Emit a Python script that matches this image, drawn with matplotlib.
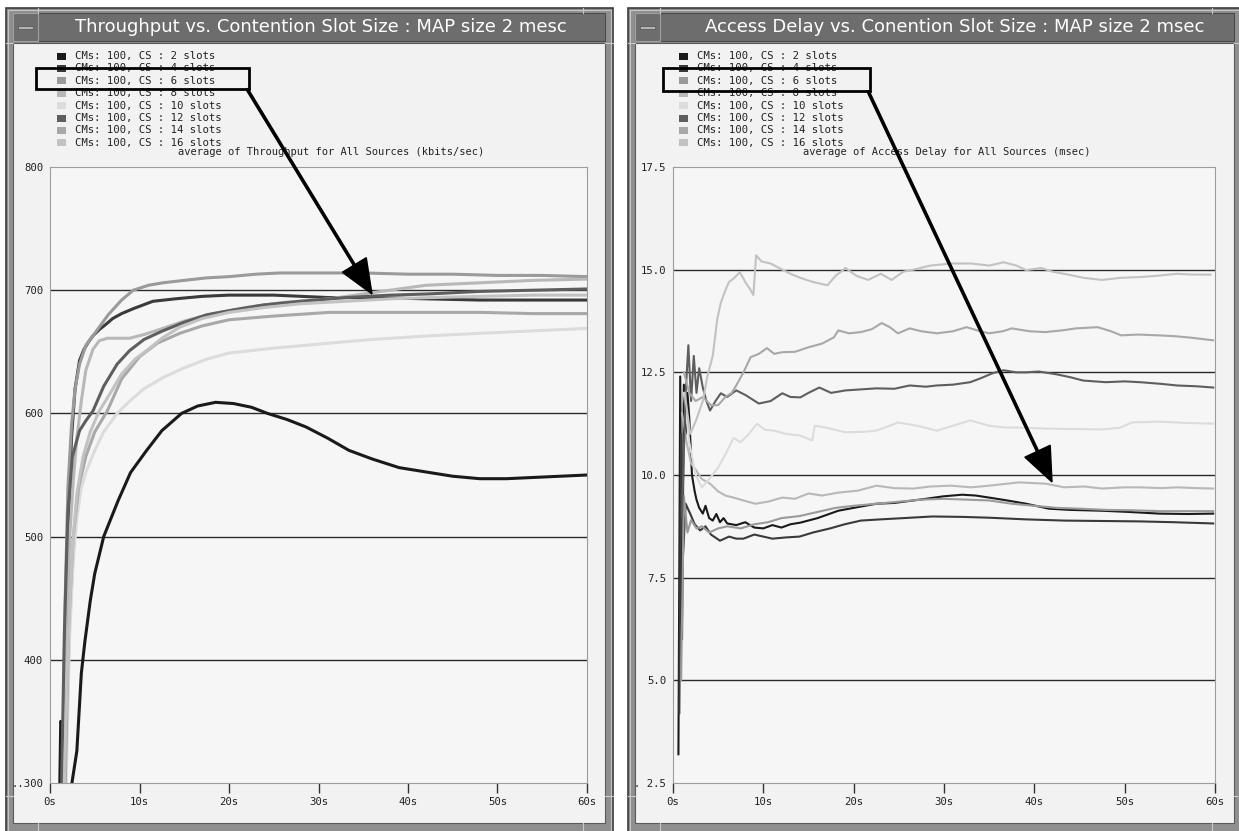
import matplotlib
matplotlib.use('Agg')
import matplotlib.pyplot as plt
from matplotlib.patches import Rectangle

W, H = 1239, 831

# ---------------- data ----------------
legend_labels = ["CMs: 100, CS : 2 slots", "CMs: 100, CS : 4 slots",
                 "CMs: 100, CS : 6 slots", "CMs: 100, CS : 8 slots",
                 "CMs: 100, CS : 10 slots", "CMs: 100, CS : 12 slots",
                 "CMs: 100, CS : 14 slots", "CMs: 100, CS : 16 slots"]
series_colors = ['#1a1a1a', '#3a3a3a', '#9a9a9a', '#b8b8b8',
                 '#dcdcdc', '#5e5e5e', '#a8a8a8', '#c2c2c2']

x_ticks = [0, 10, 20, 30, 40, 50, 60]
x_ticklabels = ['0s', '10s', '20s', '30s', '40s', '50s', '60s']
thr_yticks = [300, 400, 500, 600, 700, 800]
thr_yticklabels = ['..300', '400', '500', '600', '700', '800']
dly_yticks = [2.5, 5.0, 7.5, 10.0, 12.5, 15.0, 17.5]
dly_yticklabels = ['. 2.5', '5.0', '7.5', '10.0', '12.5', '15.0', '17.5']

# throughput (kbits/sec)
thr_t2 = [1.1, 1.2, 1.5, 1.8, 2.2, 2.45, 3.0, 3.5, 3.9, 4.5, 5.0, 6.0, 7.6, 9.0, 10.8, 12.5, 14.7, 16.5,
          18.5, 20.5, 22.5, 24.3, 26.5, 28.6, 31.0, 33.4, 36.0, 39.0, 42.4, 45.0, 48.0, 51.0, 54.0, 57.0, 60.0]
thr_2 = [300, 350, 345, 290, 290, 300, 326, 389, 415, 448, 470, 500, 529, 552, 570, 586, 600, 606,
         609, 608, 605, 600, 595, 589, 580, 570, 563, 556, 552, 549, 547, 547, 548, 549, 550]
thr_t4 = [1.5, 1.8, 2.1, 2.4, 2.8, 3.3, 3.8, 4.3, 4.8, 5.5, 6.2, 7.0, 8.0, 9.3, 11.5, 14.0, 17.0,
          20.0, 25.0, 31.2, 36.0, 42.0, 48.0, 54.0, 60.0]
thr_4 = [300, 420, 520, 580, 620, 643, 652, 658, 663, 668, 672, 677, 681, 685, 691, 693, 695,
         696, 696, 694, 694, 693, 692, 692, 692]
thr_t6 = [1.4, 1.7, 2.0, 2.4, 2.8, 3.3, 4.0, 5.2, 6.5, 8.0, 9.3, 11.0, 12.6, 15.0, 17.5, 20.0, 23.0,
          25.7, 30.0, 35.0, 40.0, 45.0, 50.0, 55.0, 60.0]
thr_6 = [300, 450, 540, 590, 620, 640, 655, 667, 680, 692, 700, 704, 706, 708, 710, 711, 713,
         714, 714, 714, 713, 713, 712, 712, 711]
thr_t8 = [1.6, 1.9, 2.2, 2.6, 3.0, 3.5, 4.0, 4.8, 5.5, 6.4, 7.5, 8.9, 10.5, 12.6, 15.0, 18.2, 22.0,
          26.0, 31.2, 36.0, 42.0, 48.0, 54.0, 60.0]
thr_8 = [300, 420, 500, 545, 580, 610, 635, 652, 659, 661, 661, 661, 664, 669, 675, 681, 686,
         690, 693, 698, 704, 706, 708, 709]
thr_t10 = [1.8, 2.2, 2.6, 3.0, 3.5, 4.1, 5.0, 6.0, 7.5, 8.9, 10.5, 12.6, 15.0, 17.5, 20.0, 25.0,
           31.2, 36.0, 42.4, 48.0, 54.0, 60.0]
thr_10 = [300, 420, 480, 515, 540, 554, 570, 585, 600, 610, 620, 629, 637, 644, 649, 653,
          657, 660, 663, 665, 667, 669]
thr_t12 = [1.3, 1.6, 2.0, 2.5, 3.3, 4.0, 4.8, 6.0, 7.5, 8.9, 10.5, 12.6, 15.0, 17.5, 20.5, 23.8,
           28.0, 33.0, 38.0, 42.4, 48.0, 54.0, 60.0]
thr_12 = [300, 420, 520, 565, 586, 594, 602, 622, 640, 651, 660, 667, 674, 680, 684, 688,
          691, 694, 696, 697, 699, 700, 701]
thr_t14 = [1.7, 2.1, 2.6, 3.2, 4.0, 5.0, 6.4, 8.0, 10.0, 12.0, 14.5, 17.0, 20.0, 25.0, 31.2, 36.0,
           42.4, 48.0, 54.0, 60.0]
thr_14 = [300, 430, 500, 540, 565, 585, 602, 628, 646, 657, 665, 671, 676, 679, 682, 682,
          682, 682, 681, 681]
thr_t16 = [1.6, 2.0, 2.5, 3.0, 3.7, 4.5, 5.5, 6.7, 8.0, 9.5, 10.8, 12.5, 14.5, 17.0, 20.0, 24.0,
           28.0, 33.0, 38.0, 42.4, 48.0, 54.0, 60.0]
thr_16 = [300, 410, 490, 535, 565, 585, 602, 616, 632, 644, 651, 661, 670, 677, 682, 686,
          689, 691, 693, 694, 695, 696, 696]

# access delay (msec)
dly_t2 = [0.6, 0.8, 1.0, 1.2, 1.4, 1.6, 1.8, 2.1, 2.4, 2.6, 2.9, 3.3, 3.6, 4.0, 4.4, 4.8, 5.2, 5.6,
          6.0, 7.0, 8.0, 9.0, 10.0, 11.0, 12.0, 13.0, 14.1, 16.0, 18.3, 20.5, 22.5, 24.5, 26.6, 28.0,
          29.9, 32.0, 33.5, 35.0, 37.0, 39.1, 41.6, 44.0, 47.5, 50.5, 53.8, 57.0, 59.8]
dly_2 = [3.2, 12.4, 6.0, 12.2, 11.0, 12.0, 11.4, 10.0, 9.6, 9.4, 9.2, 9.06, 9.25, 8.95, 8.89, 9.05,
         8.85, 8.95, 8.82, 8.78, 8.85, 8.72, 8.7, 8.78, 8.72, 8.8, 8.84, 8.95, 9.13, 9.22, 9.3, 9.32,
         9.38, 9.42, 9.48, 9.52, 9.5, 9.45, 9.38, 9.3, 9.18, 9.15, 9.13, 9.1, 9.06, 9.05, 9.06]
dly_t4 = [0.7, 0.9, 1.1, 1.4, 1.9, 2.4, 3.0, 3.6, 4.2, 5.2, 6.2, 7.0, 7.8, 9.0, 10.0, 11.0, 12.5,
          14.0, 15.5, 17.4, 19.0, 20.8, 23.0, 25.5, 28.7, 32.0, 35.0, 39.0, 43.3, 47.5, 51.7, 55.5, 59.8]
dly_4 = [4.2, 11.0, 8.0, 9.3, 9.06, 8.8, 8.65, 8.75, 8.55, 8.4, 8.5, 8.45, 8.45, 8.55, 8.5, 8.45,
         8.48, 8.5, 8.6, 8.7, 8.8, 8.89, 8.92, 8.95, 8.99, 8.98, 8.96, 8.92, 8.89, 8.88, 8.87, 8.85, 8.82]
dly_t6 = [0.9, 1.2, 1.6, 2.0, 2.6, 3.2, 4.0, 5.0, 6.0, 7.5, 9.0, 10.5, 12.0, 14.0, 16.0, 18.0, 20.0,
          22.5, 25.0, 27.5, 30.0, 32.5, 35.0, 37.5, 40.0, 42.5, 45.0, 48.0, 51.0, 54.0, 57.0, 59.8]
dly_6 = [5.0, 9.5, 8.6, 8.9, 8.7, 8.75, 8.6, 8.7, 8.75, 8.7, 8.8, 8.85, 8.95, 9.0, 9.1, 9.2, 9.25,
         9.3, 9.35, 9.4, 9.42, 9.4, 9.38, 9.3, 9.25, 9.2, 9.18, 9.15, 9.14, 9.12, 9.12, 9.12]
dly_t8 = [1.0, 1.5, 2.0, 2.6, 3.2, 4.1, 5.0, 5.8, 6.7, 7.8, 9.1, 10.5, 12.1, 13.5, 15.0, 16.5, 18.3,
          20.5, 22.5, 24.5, 26.6, 28.5, 30.8, 33.0, 35.0, 38.3, 41.2, 43.3, 45.5, 47.5, 50.0, 51.7,
          54.0, 55.8, 58.0, 59.8]
dly_8 = [11.5, 10.8, 10.28, 10.1, 9.9, 9.79, 9.6, 9.5, 9.45, 9.38, 9.3, 9.35, 9.45, 9.42, 9.55, 9.5,
         9.57, 9.62, 9.74, 9.68, 9.67, 9.72, 9.74, 9.7, 9.74, 9.82, 9.79, 9.7, 9.72, 9.67, 9.7, 9.7,
         9.68, 9.7, 9.68, 9.67]
dly_t10 = [1.2, 1.8, 2.5, 3.2, 4.0, 5.0, 5.8, 6.7, 7.5, 8.4, 9.3, 10.2, 11.2, 12.5, 14.1, 15.4, 15.7,
           17.0, 19.1, 21.0, 22.5, 24.0, 24.9, 27.0, 29.2, 31.0, 32.9, 35.0, 36.6, 39.0, 41.2, 44.0,
           47.5, 49.5, 50.8, 53.8, 56.5, 59.8]
dly_10 = [12.0, 10.8, 10.0, 9.7, 9.9, 10.18, 10.5, 10.9, 10.8, 11.0, 11.25, 11.1, 11.08, 11.0, 10.96,
          10.84, 11.2, 11.15, 11.04, 11.05, 11.08, 11.2, 11.28, 11.2, 11.08, 11.2, 11.33, 11.2, 11.16,
          11.15, 11.13, 11.12, 11.11, 11.15, 11.28, 11.3, 11.27, 11.25]
dly_t12 = [1.0, 1.4, 1.7, 2.0, 2.3, 2.6, 2.9, 3.3, 3.7, 4.1, 4.7, 5.3, 6.0, 7.0, 8.0, 9.5, 10.8, 12.1,
           13.0, 14.1, 15.0, 16.2, 17.5, 19.1, 20.5, 22.5, 24.5, 26.2, 28.0, 29.2, 31.0, 32.9, 34.0,
           35.4, 36.6, 38.0, 39.1, 40.5, 42.5, 44.0, 45.4, 47.9, 50.0, 51.7, 54.0, 55.8, 58.0, 59.8]
dly_12 = [9.0, 12.0, 13.16, 11.8, 12.9, 12.0, 12.6, 12.13, 11.8, 11.57, 11.8, 11.99, 11.9, 12.06,
          11.95, 11.74, 11.8, 11.99, 11.9, 11.89, 12.0, 12.13, 12.0, 12.06, 12.08, 12.11, 12.1, 12.18,
          12.15, 12.18, 12.2, 12.26, 12.35, 12.48, 12.55, 12.5, 12.5, 12.52, 12.45, 12.38, 12.3, 12.26,
          12.28, 12.26, 12.22, 12.18, 12.16, 12.13]
dly_t14 = [1.2, 1.8, 2.5, 3.3, 4.2, 5.0, 5.8, 6.5, 7.0, 7.8, 8.6, 9.5, 10.4, 11.2, 12.1, 13.5, 15.0,
           16.5, 17.8, 18.3, 19.5, 20.8, 22.0, 23.1, 24.0, 24.9, 26.2, 27.5, 29.2, 31.0, 32.5, 34.0,
           35.0, 36.5, 37.5, 39.5, 41.2, 43.0, 44.6, 47.0, 48.5, 49.6, 51.5, 53.8, 55.5, 57.1, 59.8]
dly_14 = [12.5, 12.0, 11.8, 11.9, 11.7, 11.7, 11.9, 12.0, 12.18, 12.5, 12.87, 12.95, 13.09, 12.95,
          12.99, 13.0, 13.11, 13.2, 13.35, 13.52, 13.45, 13.48, 13.55, 13.7, 13.6, 13.45, 13.57, 13.5,
          13.45, 13.5, 13.6, 13.5, 13.45, 13.5, 13.57, 13.5, 13.48, 13.52, 13.57, 13.6, 13.5, 13.4,
          13.42, 13.4, 13.38, 13.35, 13.28]
dly_t16 = [1.3, 1.9, 2.5, 3.3, 3.8, 4.4, 4.9, 5.3, 5.8, 6.2, 6.8, 7.4, 8.0, 8.6, 8.9, 9.2, 9.8, 10.8,
           12.1, 13.0, 14.1, 15.5, 17.1, 18.0, 19.1, 20.3, 21.6, 23.0, 24.2, 25.5, 26.6, 28.5, 30.8,
           33.0, 35.0, 36.6, 38.0, 39.1, 40.8, 42.0, 43.3, 45.5, 47.5, 49.5, 51.7, 53.5, 55.8, 57.5, 59.5]
dly_16 = [12.0, 11.0, 11.3, 11.8, 12.4, 12.9, 13.8, 14.2, 14.5, 14.7, 14.8, 14.94, 14.7, 14.5, 14.38,
          15.35, 15.2, 15.15, 15.0, 14.9, 14.8, 14.7, 14.62, 14.85, 15.04, 14.85, 14.75, 14.9, 14.75,
          14.95, 15.0, 15.1, 15.15, 15.15, 15.1, 15.18, 15.1, 14.99, 15.04, 14.95, 14.9, 14.8, 14.75,
          14.8, 14.82, 14.85, 14.9, 14.88, 14.88]

thr_series = [(thr_t2, thr_2), (thr_t4, thr_4), (thr_t6, thr_6), (thr_t8, thr_8),
              (thr_t10, thr_10), (thr_t12, thr_12), (thr_t14, thr_14), (thr_t16, thr_16)]
dly_series = [(dly_t2, dly_2), (dly_t4, dly_4), (dly_t6, dly_6), (dly_t8, dly_8),
              (dly_t10, dly_10), (dly_t12, dly_12), (dly_t14, dly_14), (dly_t16, dly_16)]

MONO = 'DejaVu Sans Mono'
plt.rcParams['font.family'] = MONO


def draw_window(ax, x0, x1, title, title_cx, subtitle, sub_cx):
    y0, y1 = 8, 840
    ax.add_patch(Rectangle((x0, y0), x1 - x0, y1 - y0, facecolor='#8f8f8f', edgecolor='#3c3c3c', lw=1.2))
    ax.add_patch(Rectangle((x0 + 2, y0 + 2), x1 - x0 - 4, y1 - y0 - 4, fill=False, edgecolor='#c4c4c4', lw=0.8))
    # interior
    ax.add_patch(Rectangle((x0 + 7, 43), x1 - x0 - 15, 823 - 43, facecolor='#f2f2f2', edgecolor='#5a5a5a', lw=0.8))
    # title bar + minus button
    ax.add_patch(Rectangle((x0 + 7, 13), x1 - x0 - 15, 28, facecolor='#6d6d6d', edgecolor='#4a4a4a', lw=0.8))
    ax.add_patch(Rectangle((x0 + 7, 13), 25, 28, facecolor='#6d6d6d', edgecolor='#a0a0a0', lw=0.8))
    ax.add_patch(Rectangle((x0 + 12, 26), 15, 3, facecolor='#b4b4b4', edgecolor='#505050', lw=0.5))
    # resize notches in the border
    for nx in (x0 + 32, x1 - 30):
        ax.plot([nx, nx], [y0, 13], color='#c8c8c8', lw=0.8)
        ax.plot([nx, nx], [823, 831], color='#c8c8c8', lw=0.8)
    for ny in (43, 796):
        ax.plot([x0, x0 + 7], [ny, ny], color='#c8c8c8', lw=0.8)
        ax.plot([x1 - 8, x1], [ny, ny], color='#c8c8c8', lw=0.8)
    ax.text(title_cx, 27, title, color='white', fontsize=13, ha='center', va='center', family='DejaVu Sans')
    # legend
    for i, (lab, col) in enumerate(zip(legend_labels, series_colors)):
        ry = 56 + 12.4 * i
        ax.add_patch(Rectangle((x0 + 51, ry - 3.5), 9, 7, facecolor=col, edgecolor='none'))
        ax.text(x0 + 69, ry, lab, fontsize=7.7, ha='left', va='center', color='#222222')
    ax.text(sub_cx, 152, subtitle, fontsize=7.5, ha='center', va='center', color='#222222')


def setup_plot(ax, ylim, yticks, yticklabels, grid_vals):
    ax.set_facecolor('#f6f6f6')
    ax.set_xlim(0, 60)
    ax.set_ylim(*ylim)
    for g in grid_vals:
        ax.axhline(g, color='#2a2a2a', lw=1.0, zorder=1)
    for s in ax.spines.values():
        s.set_color('#9c9c9c')
        s.set_linewidth(0.8)
    ax.set_xticks(x_ticks)
    ax.set_xticklabels(x_ticklabels)
    ax.set_yticks(yticks)
    ax.set_yticklabels(yticklabels)
    ax.tick_params(axis='x', direction='out', length=7, width=1, color='#333333', pad=3,
                   labelsize=7.7, labelcolor='#222222')
    ax.tick_params(axis='y', length=0, pad=5, labelsize=7.7, labelcolor='#222222')


fig = plt.figure(figsize=(W / 100, H / 100), dpi=100)
fig.patch.set_facecolor('white')

bg = fig.add_axes([0, 0, 1, 1], zorder=0)
bg.set_xlim(0, W)
bg.set_ylim(H, 0)
bg.axis('off')
draw_window(bg, 6, 613, "Throughput vs. Contention Slot Size : MAP size 2 mesc", 321,
            "average of Throughput for All Sources (kbits/sec)", 331)
draw_window(bg, 628, 1242, "Access Delay vs. Conention Slot Size : MAP size 2 msec", 955,
            "average of Access Delay for All Sources (msec)", 947)

# throughput plot
axL = fig.add_axes([50 / W, 1 - 783 / H, 537 / W, 616 / H], zorder=2)
setup_plot(axL, (300, 800), thr_yticks, thr_yticklabels, [400, 500, 600, 700])
for (t, v), c in zip(thr_series, series_colors):
    axL.plot(t, v, color=c, lw=2.2, zorder=3)

# access delay plot
axR = fig.add_axes([673 / W, 1 - 783 / H, 542 / W, 616 / H], zorder=2)
setup_plot(axR, (2.5, 17.5), dly_yticks, dly_yticklabels, [5.0, 7.5, 10.0, 12.5, 15.0])
for (t, v), c in zip(dly_series, series_colors):
    axR.plot(t, v, color=c, lw=1.5, zorder=3)

# annotation box + arrows on top
fg = fig.add_axes([0, 0, 1, 1], zorder=10)
fg.set_xlim(0, W)
fg.set_ylim(H, 0)
fg.axis('off')
fg.patch.set_alpha(0)
fg.add_patch(Rectangle((36, 68), 213, 21, fill=False, edgecolor='black', lw=2.0))
fg.add_patch(Rectangle((663, 68), 207, 23, fill=False, edgecolor='black', lw=2.0))
fg.arrow(247, 89, 372 - 247, 294 - 89, width=2.2, head_width=28, head_length=34,
         length_includes_head=True, color='black')
fg.arrow(868, 91, 1052 - 868, 482 - 91, width=2.2, head_width=28, head_length=34,
         length_includes_head=True, color='black')

fig.savefig('out.png', dpi=100)
